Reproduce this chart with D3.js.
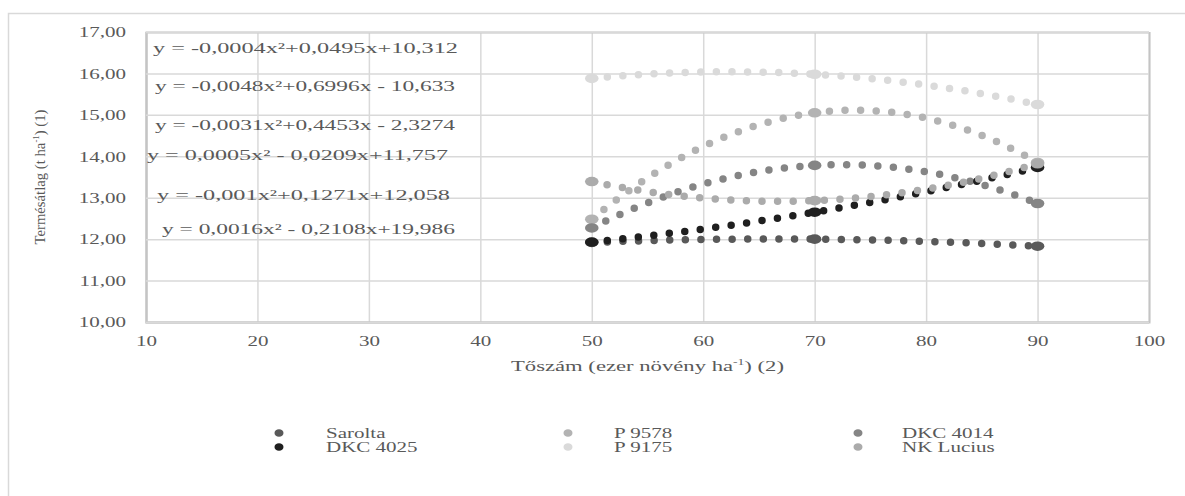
<!DOCTYPE html>
<html>
<head>
<meta charset="utf-8">
<script src="https://cdn.jsdelivr.net/npm/d3@7/dist/d3.min.js"></script>
<style>
  body { margin: 0; background: #fff; }
  text { font-family: "Liberation Serif", "Times New Roman", serif; fill: #595959; }
</style>
</head>
<body>
<svg width="1185" height="496"></svg>
<script>
// plant density (thousand plants / ha)
const densities = [50, 70, 90];

const seriesNames = ["Sarolta", "P 9578", "DKC 4014", "DKC 4025", "P 9175", "NK Lucius"];
const sarolta  = [11.92, 12.00, 11.83];
const p9578    = [12.48, 15.05, 13.85];
const dkc4014  = [12.27, 13.78, 12.86];
const dkc4025  = [11.93, 12.65, 13.73];
const p9175    = [15.88, 15.98, 15.25];
const nkLucius = [13.39, 12.93, 13.82];

const seriesColors = ["#595959", "#b3b3b3", "#858585", "#1f1f1f", "#dadada", "#ababab"];

const equations = [
  "y = -0,0004x²+0,0495x+10,312",
  "y = -0,0048x²+0,6996x - 10,633",
  "y = -0,0031x²+0,4453x - 2,3274",
  "y = 0,0005x² - 0,0209x+11,757",
  "y = -0,001x²+0,1271x+12,058",
  "y = 0,0016x² - 0,2108x+19,986"
];

const xTicks = [10, 20, 30, 40, 50, 60, 70, 80, 90, 100];
const yTicks = [10, 11, 12, 13, 14, 15, 16, 17];

let svg = d3.select("svg");
const stretchK = 1.4;

// the original picture is stretched sideways, so stretch text the same way
const stretch = (sel, k) => {
  sel.each(function () {
    const len = this.getComputedTextLength();
    d3.select(this).attr("textLength", len * k).attr("lengthAdjust", "spacingAndGlyphs");
  });
};

const x = d3.scaleLinear().domain([10, 100]).range([146, 1149]);
const y = d3.scaleLinear().domain([10, 17]).range([322, 32]);

// outer frame
svg.append("rect")
  .attr("x", 8.5).attr("y", 13.5).attr("width", 1190).attr("height", 500)
  .attr("fill", "none").attr("stroke", "#d9d9d9").attr("stroke-width", 1.5);

const fmt = d => d3.format(".2f")(d).replace(".", ",");

let gx = svg.append("g")
  .attr("transform", `translate(0,${y(10)})`)
  .call(d3.axisBottom(x).tickValues(xTicks).tickSize(-(y(10) - y(17))).tickPadding(13));
let gy = svg.append("g")
  .attr("transform", `translate(${x(10)},0)`)
  .call(d3.axisLeft(y).tickValues(yTicks).tickFormat(fmt).tickSize(-(x(100) - x(10))).tickPadding(20));

[gx, gy].forEach(g => {
  g.select(".domain").attr("stroke", "#c4c4c4").attr("stroke-width", 2);
  g.selectAll(".tick line").attr("stroke", "#d9d9d9").attr("stroke-width", 1.5);
  g.selectAll(".tick text").attr("fill", "#595959").attr("font-size", 15)
    .attr("font-family", "Liberation Serif");
  stretch(g.selectAll(".tick text"), stretchK);
});
gx.select(".domain").raise();

// axis titles
let xt = svg.append("text")
  .attr("x", (x(10) + x(100)) / 2).attr("y", 371)
  .attr("text-anchor", "middle").attr("font-size", 15);
xt.append("tspan").text("Tőszám (ezer növény ha");
xt.append("tspan").attr("font-size", 9).attr("dy", -6).text("-1");
xt.append("tspan").attr("dy", 6).text(") (2)");
xt.attr("textLength", 273).attr("lengthAdjust", "spacingAndGlyphs");

let yt = svg.append("text")
  .attr("transform", "translate(45,177) rotate(-90)")
  .attr("text-anchor", "middle").attr("font-size", 15);
yt.append("tspan").text("Termésátlag (t ha");
yt.append("tspan").attr("font-size", 9).attr("dy", -6).text("-1");
yt.append("tspan").attr("dy", 6).text(") (1)");
yt.attr("textLength", 135).attr("lengthAdjust", "spacingAndGlyphs");

// trend curves: 2nd order polynomial through the three measured points
const quad = (xs, ys) => t => {
  let s = 0;
  for (let i = 0; i < 3; i++) {
    let l = 1;
    for (let j = 0; j < 3; j++) if (j !== i) l *= (t - xs[j]) / (xs[i] - xs[j]);
    s += ys[i] * l;
  }
  return s;
};

const allSeries = [sarolta, p9578, dkc4014, dkc4025, p9175, nkLucius];
const steps = d3.range(densities[0], densities[2] + 0.001, 0.25);
const line = d3.line().x(d => x(d[0])).y(d => y(d[1]));

allSeries.forEach((vals, i) => {
  const f = quad(densities, vals);
  svg.append("path")
    .attr("d", line(steps.map(t => [t, f(t)])))
    .attr("fill", "none")
    .attr("stroke", seriesColors[i])
    .attr("stroke-width", 7.5)
    .attr("stroke-linecap", "round")
    .attr("stroke-dasharray", "0 15.6");
});

allSeries.forEach((vals, i) => {
  svg.append("g").selectAll("ellipse")
    .data(vals.map((v, k) => [densities[k], v]))
    .enter().append("ellipse")
      .attr("cx", d => x(d[0])).attr("cy", d => y(d[1]))
      .attr("rx", 6.8).attr("ry", 4.8)
      .attr("fill", seriesColors[i]);
});

// trendline equations
const eqPos = [[153, 48, 305], [155, 86, 300], [155, 125, 300], [147, 155, 301], [157, 195, 293], [162, 229, 293]];
equations.forEach((e, i) => {
  svg.append("text")
    .attr("x", eqPos[i][0]).attr("y", eqPos[i][1] + 5)
    .attr("font-size", 15).attr("fill", "#404040")
    .attr("textLength", eqPos[i][2]).attr("lengthAdjust", "spacingAndGlyphs")
    .text(e);
});

// legend
const legMarkX = [279, 568, 858];
const legTextX = [326, 614, 902];
const legY = [433, 447];
seriesNames.forEach((name, i) => {
  const col = i % 3, row = Math.floor(i / 3);
  svg.append("ellipse")
    .attr("cx", legMarkX[col]).attr("cy", legY[row])
    .attr("rx", 4.5).attr("ry", 3.8).attr("fill", seriesColors[i]);
  let t = svg.append("text")
    .attr("x", legTextX[col]).attr("y", legY[row] + 5)
    .attr("font-size", 15).text(name);
  stretch(t, stretchK);
});
</script>
</body>
</html>
